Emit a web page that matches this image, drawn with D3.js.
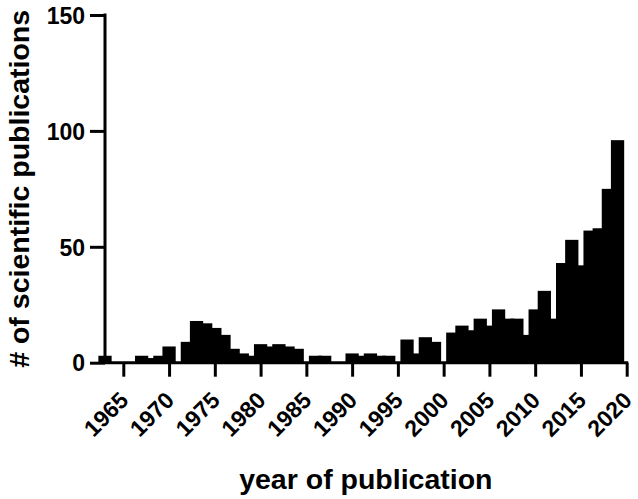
<!DOCTYPE html>
<html>
<head>
<meta charset="utf-8">
<script src="https://cdn.jsdelivr.net/npm/d3@7"></script>
<style>
  body { margin: 0; background: #fff; }
  svg { display: block; }
  text { font-family: "Liberation Sans", Arial, sans-serif; font-weight: bold; fill: #000; }
</style>
</head>
<body>
<svg id="chart"></svg>
<script>
// -- DATA --
const years = d3.range(1963, 2020); // 1963 .. 2019
const counts = [
  3, 0, 0, 0, 3, 2, 3, 7, 0, 9,        // 1963-1972
  18, 17, 15, 12, 6, 4, 3, 8, 7, 8,    // 1973-1982
  7, 6, 0, 3, 3, 0, 0, 4, 3, 4,        // 1983-1992
  3, 3, 0, 10, 4, 11, 9, 0, 13, 16,    // 1993-2002
  14, 19, 16, 23, 19, 19, 12, 23, 31, 19, // 2003-2012
  43, 53, 42, 57, 58, 75, 96           // 2013-2019
];
const xTicks = [1965, 1970, 1975, 1980, 1985, 1990, 1995, 2000, 2005, 2010, 2015, 2020];
const yTicks = [0, 50, 100, 150];

// -- LAYOUT --
const width = 638;
const height = 499;
const plot = { left: 105, right: 626.7, top: 15, bottom: 362.7 };

const svg = d3.select("#chart")
  .attr("width", width)
  .attr("height", height);

// Scales
const x = d3.scaleLinear()
  .domain([1963, 2020])
  .range([plot.left, plot.right]);
const y = d3.scaleLinear()
  .domain([0, 150])
  .range([plot.bottom, plot.top]);

// bars are wider than one year step (prism style), they overlap
const halfBar = 0.725;

// Bars
svg.append("g")
  .selectAll("rect")
  .data(years.map((yr, i) => ({ year: yr, n: counts[i] })))
  .enter()
  .append("rect")
  .attr("x", (d) => x(d.year - halfBar))
  .attr("y", (d) => y(d.n))
  .attr("width", x(1963 + halfBar) - x(1963 - halfBar))
  .attr("height", (d) => y(0) - y(d.n))
  .style("fill", "#000");

// X axis
const xAxis = svg.append("g")
  .attr("transform", `translate(0, ${plot.bottom})`)
  .call(d3.axisBottom(x).tickValues(xTicks).tickSize(14).tickSizeOuter(0).tickFormat(d3.format("d")));
xAxis.select(".domain")
  .attr("d", `M${plot.left},0H${plot.right + 1.5}`)
  .attr("stroke-width", 3);
xAxis.selectAll(".tick line").attr("stroke-width", 3);
xAxis.selectAll(".tick text")
  .attr("y", 0)
  .attr("dy", 0)
  .attr("text-anchor", "end")
  .attr("transform", "translate(6, 39) rotate(-45)")
  .style("font-size", "23px");

// Y axis
const yAxis = svg.append("g")
  .attr("transform", `translate(${plot.left}, 0)`)
  .call(d3.axisLeft(y).tickValues(yTicks).tickSize(15).tickSizeOuter(0));
yAxis.select(".domain")
  .attr("d", `M0,${plot.top - 1.5}V${plot.bottom}`)
  .attr("stroke-width", 3);
yAxis.selectAll(".tick line").attr("stroke-width", 3);
yAxis.selectAll(".tick text")
  .attr("x", -20)
  .attr("dy", "0.36em")
  .style("font-size", "23px");

// Axis titles
svg.append("text")
  .attr("x", (plot.left + plot.right) / 2)
  .attr("y", 489)
  .attr("text-anchor", "middle")
  .style("font-size", "28.5px")
  .text("year of publication");

svg.append("text")
  .attr("transform", `translate(29, ${(plot.top + plot.bottom) / 2}) rotate(-90)`)
  .attr("text-anchor", "middle")
  .style("font-size", "28.5px")
  .text("# of scientific publications");
</script>
</body>
</html>
